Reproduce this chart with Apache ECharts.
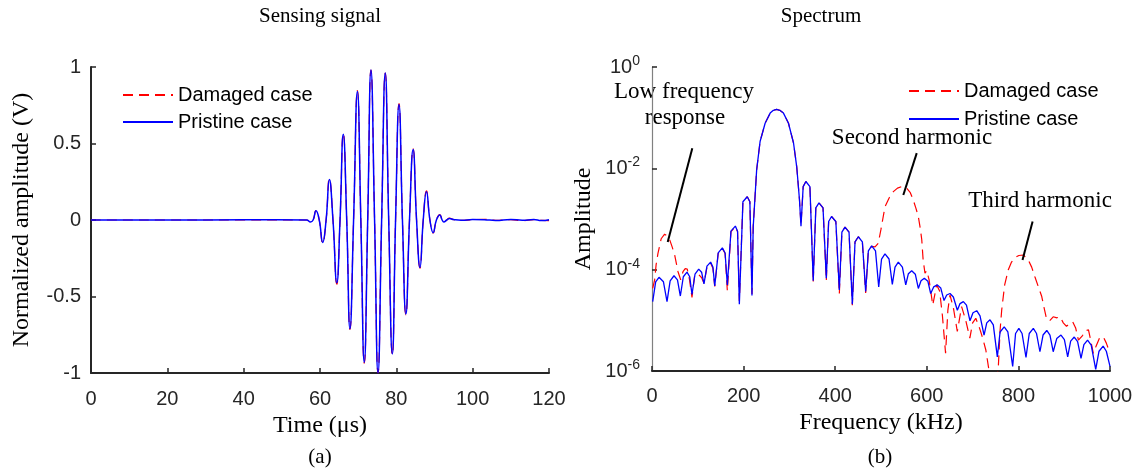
<!DOCTYPE html>
<html><head><meta charset="utf-8">
<script src="https://cdn.jsdelivr.net/npm/echarts@6/dist/echarts.min.js"></script>
<style>html,body{margin:0;padding:0;background:#fff}#c{width:1137px;height:475px}</style>
</head><body><div id="c"></div>
<script>
// ---- data ----
const seriesNames = ['Damaged case', 'Pristine case'];
const timeTicks = [0, 20, 40, 60, 80, 100, 120];
const ampTicks = [-1, -0.5, 0, 0.5, 1];
const freqTicks = [0, 200, 400, 600, 800, 1000];

// sensing signal: [time (us), normalized amplitude (V)]
const pristineSignal = [
  [0,0],[20,0],[40,0.001],[56.5,0],[57.5,-0.013],[58.2,0],[58.95,0.06],[59.8,0],[60.7,-0.147],[61.6,0],
  [62.45,0.265],[63.4,0],[64.4,-0.41],[65.25,0],[66.1,0.56],[67.0,0],[67.85,-0.71],[68.8,0],[69.8,0.84],[70.7,0],
  [71.6,-0.93],[72.5,0],[73.35,0.98],[74.3,0],[75.2,-1.0],[76.15,0],[77.1,0.96],[78.0,0],[78.95,-0.875],[79.8,0],
  [80.7,0.755],[81.6,0],[82.5,-0.615],[83.45,0],[84.4,0.46],[85.3,0],[86.2,-0.31],[87.05,0],[87.9,0.185],[88.8,0],
  [89.65,-0.083],[90.5,0],[91.4,0.033],[92.0,0],[92.45,-0.013],[93.2,0],[93.9,0.01],[95,0.003],[97,-0.002],
  [100,0.003],[103,0.002],[106,-0.003],[110,0.004],[113,-0.002],[116,0.003],[118,-0.004],[120,0.002]
];
const damagedSignal = [
  [0,0],[20,0],[40,0],[56.5,0],[57.5,-0.014],[58.2,0],[58.95,0.062],[59.8,0],[60.7,-0.15],[61.6,0],
  [62.45,0.27],[63.4,0],[64.4,-0.42],[65.25,0],[66.1,0.565],[67.0,0],[67.85,-0.715],[68.8,0],[69.8,0.845],[70.7,0],
  [71.6,-0.935],[72.5,0],[73.35,0.98],[74.3,0],[75.2,-1.0],[76.15,0],[77.1,0.96],[78.0,0],[78.95,-0.88],[79.8,0],
  [80.7,0.76],[81.6,0],[82.5,-0.62],[83.45,0],[84.4,0.465],[85.3,0],[86.2,-0.315],[87.05,0],[87.9,0.19],[88.8,0],
  [89.65,-0.085],[90.5,0],[91.4,0.035],[92.0,0],[92.45,-0.012],[93.2,0],[93.9,0.012],[95,0.002],[97,-0.003],
  [100,0.002],[103,0.004],[106,-0.002],[110,0.002],[113,-0.004],[116,0.002],[118,-0.003],[120,-0.004]
];

// spectrum: [frequency (kHz), log10 of amplitude]
const pristineSpectrumLog10 = [
  [1.5,-4.63],[8,-4.24],[15.3,-4.15],[25,-4.24],[32.8,-4.63],[39.6,-4.22],[48,-4.12],[55.6,-4.2],[61.9,-4.52],
  [68.4,-4.14],[76.4,-4.05],[82.4,-4.14],[87.3,-4.49],[93.9,-4.09],[102,-3.99],[108.3,-4.05],[113.5,-4.28],
  [120,-3.93],[128,-3.85],[133,-3.95],[137,-4.32],[144.5,-3.67],[153.6,-3.57],[159.6,-3.67],[164.5,-4.30],
  [172.4,-3.24],[182,-3.14],[186.8,-3.24],[190.7,-4.68],[198.5,-2.66],[208,-2.56],[213.7,-2.66],[218.3,-4.51],
  [221,-3.15],[228.5,-2.03],[236,-1.47],[247,-1.11],[258,-0.91],[265,-0.855],[272,-0.835],[279,-0.855],
  [287,-0.91],[298,-1.11],[309,-1.5],[316,-1.97],[322,-2.62],[325.3,-3.14],
  [330.1,-2.36],[336,-2.26],[344.8,-2.36],[352,-4.22],[357.7,-2.78],[364.6,-2.68],[373.4,-2.78],[380.6,-4.17],
  [385.7,-3.05],[392,-2.95],[401.4,-3.05],[409,-4.40],[414.6,-3.26],[421.4,-3.16],[430.2,-3.26],[437.4,-4.68],
  [443.3,-3.45],[450.5,-3.35],[459.3,-3.45],[466.5,-4.43],[472.4,-3.63],[479.6,-3.53],[488,-3.63],[495,-4.34],
  [501.2,-3.79],[508.7,-3.69],[517.5,-3.79],[524.7,-4.29],[530.6,-3.95],[537.8,-3.85],[546.7,-3.95],[554,-4.30],
  [559.8,-4.08],[567,-4.02],[574.9,-4.09],[581.5,-4.37],[587.4,-4.22],[594.6,-4.17],[602.4,-4.23],[608.5,-4.47],
  [615,-4.34],[623,-4.30],[630.4,-4.36],[637.6,-4.61],[643.5,-4.50],[650.7,-4.47],[658,-4.54],[666.7,-4.80],
  [672.6,-4.67],[679.8,-4.63],[686.6,-4.70],[694.3,-5.01],[700.9,-4.85],[709,-4.81],[716.2,-4.91],[725,-5.29],
  [730.9,-5.05],[738,-4.99],[745.2,-5.09],[754,-5.72],[760,-5.23],[769,-5.13],[777,-5.23],[787.5,-5.91],
  [793.8,-5.26],[801,-5.16],[808,-5.26],[816.6,-5.73],[823.7,-5.26],[832.6,-5.16],[839.6,-5.26],[847,-5.62],
  [853.8,-5.29],[862,-5.20],[868.9,-5.29],[876,-5.62],[883.7,-5.36],[893,-5.29],[900.4,-5.38],[907.6,-5.72],
  [914.1,-5.41],[922,-5.33],[929.3,-5.42],[936.7,-5.75],[943,-5.48],[951,-5.39],[959,-5.49],[968.8,-5.97],
  [976,-5.61],[985,-5.51],[992,-5.61],[1000,-5.91]
];
const damagedSpectrumLog10 = [
  [1.5,-4.37],[5.8,-4.2],[9,-3.9],[13,-3.68],[20,-3.39],[27.6,-3.30],[33,-3.33],[38.6,-3.41],[44,-3.55],
  [49.5,-3.71],[56.8,-4.04],[62.6,-4.2],[67.7,-4.04],[72.5,-3.98],[77,-3.99],[82,-4.2],[87.3,-4.55],[93,-4.12],
  [100,-4.08],[104,-4.1],[108.5,-4.16],[113.5,-4.27],[120,-3.95],[128,-3.87],[133,-3.97],[137,-4.33],
  [144.5,-3.68],[153.6,-3.58],[159.6,-3.68],[164.5,-4.42],[172.4,-3.25],[182,-3.15],[186.8,-3.25],[190.7,-4.62],
  [198.5,-2.66],[208,-2.56],[213.7,-2.66],[218.3,-4.48],
  [221,-3.15],[228.5,-2.03],[236,-1.47],[247,-1.11],[258,-0.91],[265,-0.855],[272,-0.835],[279,-0.855],
  [287,-0.91],[298,-1.11],[309,-1.5],[316,-1.97],[322,-2.62],[325.3,-3.12],
  [330.1,-2.36],[336,-2.26],[344.8,-2.36],[352,-4.25],[357.7,-2.78],[364.6,-2.68],[373.4,-2.78],[380.6,-4.22],
  [385.7,-3.05],[392,-2.95],[401.4,-3.05],[409,-4.48],[414.6,-3.26],[421.4,-3.16],[430.2,-3.26],[437.4,-4.70],
  [443.3,-3.45],[450.5,-3.35],[459.3,-3.45],[466.5,-4.46],[472.4,-3.63],[479.6,-3.54],[487,-3.55],[494,-3.48],
  [500,-3.2],[508.7,-2.76],[518,-2.58],[527,-2.46],[536,-2.39],[545,-2.36],[556,-2.39],[564,-2.48],[570.6,-2.63],
  [576,-2.78],[581.5,-2.95],[586,-3.2],[589,-3.41],[592,-3.81],[596,-4.07],[600,-4.02],[605,-4.2],[613,-4.70],
  [621.6,-4.30],[628,-4.42],[634,-4.9],[641,-5.65],[646,-4.8],[650.6,-4.50],[658,-4.75],[666.6,-5.22],[676,-4.73],
  [685,-5.0],[694,-5.35],[700,-5.05],[707,-4.96],[715,-5.15],[722,-5.35],[729,-5.59],[736,-6.0],[745,-6.6],
  [756,-5.95],[760,-5.2],[763.5,-4.8],[770,-4.3],[778,-4.0],[785,-3.85],[792.6,-3.76],[801,-3.72],[810.7,-3.71],
  [821.6,-3.81],[829,-3.95],[836,-4.14],[844,-4.35],[851,-4.53],[856,-4.75],[862,-4.99],[869,-5.0],[876,-4.93],
  [884,-4.95],[891,-4.93],[898,-5.05],[905,-5.12],[912,-5.06],[918.5,-5.03],[925,-5.15],[931,-5.39],[940,-5.3],
  [947,-5.2],[953,-5.19],[958,-5.4],[963.6,-5.65],[970,-5.5],[977,-5.35],[985,-5.32],[992,-5.45],[1000,-5.65]
];

// annotation pointer lines: [[freq, amplitude] start, [freq, amplitude] end]
const annotationPointers = [
  [[88, 0.025], [34.3, 3.5e-4]],
  [[578, 0.02], [548.7, 2.97e-3]],
  [[831, 8.9e-4], [809, 1.55e-4]]
];

// ---- chart ----
const SANS = 'Liberation Sans, Arial, sans-serif';
const SERIF = 'Liberation Serif, Times New Roman, serif';
const AX = '#262626';
const toAmp = arr => arr.map(p => [p[0], Math.pow(10, p[1])]);

const chart = echarts.init(document.getElementById('c'), null, {renderer: 'canvas'});

const axisBase = (color, w) => ({
  axisLine: {show: true, onZero: false, lineStyle: {color: color, width: w}},
  axisTick: {show: true, inside: true, length: 5, lineStyle: {color: AX, width: 1.5}},
  splitLine: {show: false},
  axisLabel: {show: true, fontFamily: SANS, fontSize: 20, color: AX, showMinLabel: true, showMaxLabel: true,
    formatter: v => String(v)},
  nameLocation: 'middle',
  nameTextStyle: {fontFamily: SERIF, fontSize: 24, color: '#000'}
});

function merge(a, b) { return Object.assign({}, a, b, {
  axisLabel: Object.assign({}, a.axisLabel, b.axisLabel || {}),
  nameTextStyle: Object.assign({}, a.nameTextStyle, b.nameTextStyle || {})
}); }

const textEl = (txt, x, y, size) => ({
  type: 'text', x: x, y: y, silent: true,
  style: {text: txt, fill: '#000', font: size + 'px ' + SERIF, textAlign: 'center', textVerticalAlign: 'middle'}
});

const legendBase = {
  orient: 'vertical', itemWidth: 50, itemHeight: 14, selectedMode: false,
  itemStyle: {opacity: 0},
  data: seriesNames, textStyle: {fontFamily: SANS, fontSize: 20, color: '#000'}
};

const option = {
  animation: false,
  backgroundColor: '#fff',
  grid: [
    {left: 91, top: 67, width: 458, height: 306},
    {left: 652, top: 67, width: 458, height: 304}
  ],
  legend: [
    Object.assign({}, legendBase, {left: 117, top: 80, itemGap: 7}),
    Object.assign({}, legendBase, {left: 903, top: 76, itemGap: 8})
  ],
  xAxis: [
    merge(axisBase(AX, 2), {gridIndex: 0, type: 'value', min: timeTicks[0], max: timeTicks[timeTicks.length - 1],
      interval: timeTicks[1] - timeTicks[0], name: 'Time (\u03bcs)', nameGap: 36, axisLabel: {margin: 16}}),
    merge(axisBase(AX, 2), {gridIndex: 1, type: 'value', min: freqTicks[0], max: freqTicks[freqTicks.length - 1],
      interval: freqTicks[1] - freqTicks[0], name: 'Frequency (kHz)', nameGap: 36, axisLabel: {margin: 15}})
  ],
  yAxis: [
    merge(axisBase(AX, 2), {gridIndex: 0, type: 'value', min: ampTicks[0], max: ampTicks[ampTicks.length - 1],
      interval: ampTicks[1] - ampTicks[0], name: 'Normalized amplitude (V)', nameGap: 57, axisLabel: {margin: 10}}),
    merge(axisBase('#808080', 1.2), {gridIndex: 1, type: 'log', logBase: 100, min: 1e-6, max: 1, splitNumber: 3,
      name: 'Amplitude', nameGap: 56,
      axisLabel: {margin: 12, formatter: v => '10{sup|' + Math.round(Math.log10(v)) + '}',
        rich: {sup: {fontFamily: SANS, fontSize: 14, color: AX, verticalAlign: 'top', padding: [0, 0, 12, 0]}}}})
  ],
  series: [
    {name: seriesNames[0], type: 'line', xAxisIndex: 0, yAxisIndex: 0, data: damagedSignal, smooth: 0.5,
      symbol: 'none', lineStyle: {color: '#ff0000', width: 1.2, type: [10, 6]}, itemStyle: {color: '#ff0000'}},
    {name: seriesNames[1], type: 'line', xAxisIndex: 0, yAxisIndex: 0, data: pristineSignal, smooth: 0.5,
      symbol: 'none', lineStyle: {color: '#0000ff', width: 1.5}, itemStyle: {color: '#0000ff'}},
    {name: seriesNames[0], type: 'line', xAxisIndex: 1, yAxisIndex: 1, data: toAmp(damagedSpectrumLog10),
      symbol: 'none', clip: true, lineStyle: {color: '#ff0000', width: 1.2, type: [10, 6]}, itemStyle: {color: '#ff0000'},
      markLine: {silent: true, symbol: ['none', 'none'], animation: false, label: {show: false},
        lineStyle: {color: '#000', width: 2, type: 'solid'},
        data: annotationPointers.map(p => [{coord: p[0]}, {coord: p[1]}])}},
    {name: seriesNames[1], type: 'line', xAxisIndex: 1, yAxisIndex: 1, data: toAmp(pristineSpectrumLog10),
      symbol: 'none', clip: true, lineStyle: {color: '#0000ff', width: 1.3}, itemStyle: {color: '#0000ff'}}
  ],
  graphic: [
    textEl('Sensing signal', 320, 16, 21),
    textEl('Spectrum', 821, 16, 21),
    textEl('(a)', 320, 457, 21),
    textEl('(b)', 880, 457, 21),
    textEl('Low frequency', 684, 92, 23),
    textEl('response', 685, 118, 23),
    textEl('Second harmonic', 912, 138, 23),
    textEl('Third harmonic', 1040, 201, 23)
  ]
};
chart.setOption(option);
</script></body></html>
